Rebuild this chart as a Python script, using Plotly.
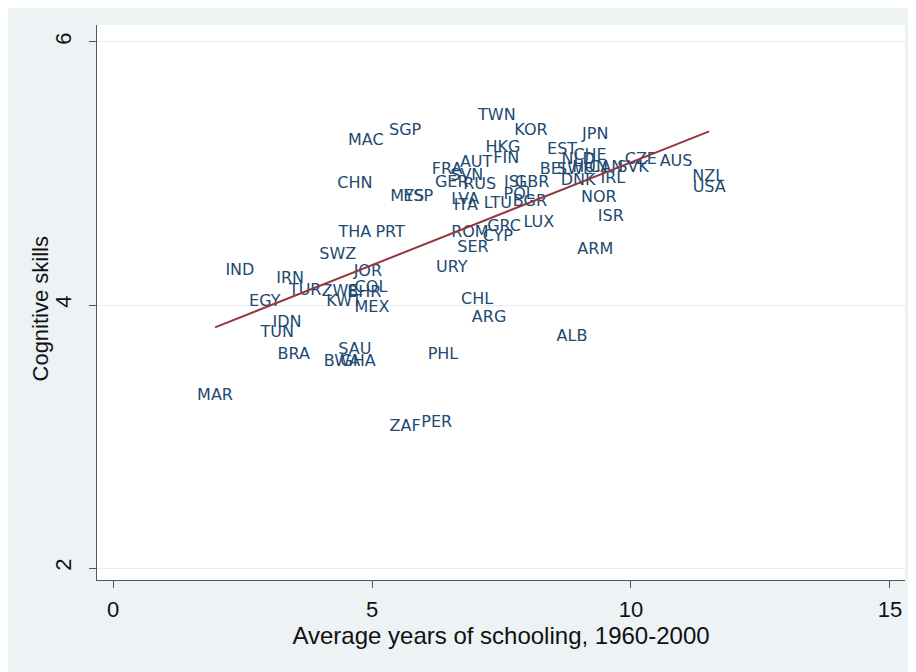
import plotly.graph_objects as go

countries = ["TWN", "KOR", "JPN", "SGP", "MAC", "HKG", "EST", "CHE", "NLD", "AUT",
             "FIN", "FRA", "SVN", "GER", "RUS", "ISL", "GBR", "POL", "LVA", "ITA",
             "LTU", "BGR", "BEL", "SWE", "HUN", "CAN", "DNK", "IRL", "SVK", "CZE",
             "AUS", "NZL", "USA", "NOR", "ISR", "ARM", "LUX", "GRC", "CYP", "ROM",
             "SER", "URY", "CHL", "ARG", "ALB", "PHL", "ZAF", "PER", "MAR", "CHN",
             "MYS", "ESP", "THA", "PRT", "SWZ", "IND", "IRN", "TUR", "JOR", "COL",
             "BHR", "ZWE", "KWT", "MEX", "EGY", "IDN", "TUN", "BRA", "SAU", "BWA",
             "GHA"]
schooling = [7.41, 8.07, 9.31, 5.64, 4.88, 7.53, 8.67, 9.21, 8.98, 7.01,
             7.59, 6.45, 6.83, 6.54, 7.08, 7.78, 8.09, 7.84, 6.80, 6.81,
             7.43, 8.05, 8.53, 8.92, 9.21, 9.52, 8.98, 9.65, 10.04, 10.19,
             10.87, 11.49, 11.51, 9.38, 9.61, 9.31, 8.22, 7.55, 7.43, 6.89,
             6.95, 6.54, 7.03, 7.26, 8.86, 6.37, 5.64, 6.25, 1.97, 4.67,
             5.68, 5.89, 4.67, 5.35, 4.34, 2.45, 3.42, 3.71, 4.92, 4.98,
             4.85, 4.38, 4.46, 5.00, 2.93, 3.36, 3.17, 3.49, 4.67, 4.42,
             4.73]
cognitive = [5.44, 5.32, 5.29, 5.32, 5.25, 5.19, 5.18, 5.13, 5.10, 5.08,
             5.11, 5.03, 4.98, 4.93, 4.91, 4.93, 4.93, 4.84, 4.80, 4.75,
             4.77, 4.78, 5.03, 5.03, 5.04, 5.04, 4.94, 4.96, 5.04, 5.10,
             5.09, 4.97, 4.89, 4.81, 4.67, 4.42, 4.62, 4.59, 4.52, 4.55,
             4.43, 4.28, 4.04, 3.90, 3.76, 3.62, 3.07, 3.10, 3.31, 4.92,
             4.82, 4.82, 4.55, 4.55, 4.38, 4.26, 4.20, 4.11, 4.25, 4.13,
             4.09, 4.10, 4.02, 3.98, 4.02, 3.86, 3.79, 3.62, 3.66, 3.57,
             3.57]

fit_x = [1.97, 11.51]
fit_y = [3.83, 5.32]

x_ticks = [0, 5, 10, 15]
y_ticks = [2, 4, 6]

fig = go.Figure()
fig.add_trace(go.Scatter(
    x=schooling, y=cognitive, text=countries, mode="text",
    textposition="middle center",
    textfont=dict(family="DejaVu Sans", size=16, color="#22496f"),
    showlegend=False, hoverinfo="skip"))
fig.add_trace(go.Scatter(
    x=fit_x, y=fit_y, mode="lines",
    line=dict(color="#93383f", width=2),
    showlegend=False, hoverinfo="skip"))

axis_font = dict(family="Liberation Sans Narrow, Liberation Sans, Arial", size=22, color="#111111")
xtitle_font = dict(family="Liberation Sans Narrow, Liberation Sans, Arial", size=24, color="#111111")

fig.update_layout(
    width=908, height=664,
    paper_bgcolor="#edf2f5", plot_bgcolor="#ffffff",
    margin=dict(l=89, r=11, t=17, b=92),
    xaxis=dict(range=[-0.309, 15.29], tickvals=x_ticks, ticktext=[str(v) for v in x_ticks],
               showgrid=False, zeroline=False, showline=True, linecolor="#555555", linewidth=1,
               ticks="outside", ticklen=7, tickcolor="#555555", tickfont=axis_font,
               ticklabelstandoff=3,
               title=dict(text="Average years of schooling, 1960-2000", font=xtitle_font, standoff=0)),
    yaxis=dict(range=[1.909, 6.129], tickvals=y_ticks, ticktext=[str(v) for v in y_ticks],
               showgrid=True, gridcolor="#e8ecef", gridwidth=1, zeroline=False,
               showline=True, linecolor="#555555", linewidth=1,
               ticks="outside", ticklen=7, tickcolor="#555555", tickfont=axis_font, tickangle=-90,
               ticklabelstandoff=9),
    annotations=[dict(text="Cognitive skills", xref="paper", yref="paper",
                      x=-0.07, y=0.49, xanchor="center", yanchor="middle",
                      textangle=-90, showarrow=False, font=axis_font)],
)

fig.write_html("out.html")
